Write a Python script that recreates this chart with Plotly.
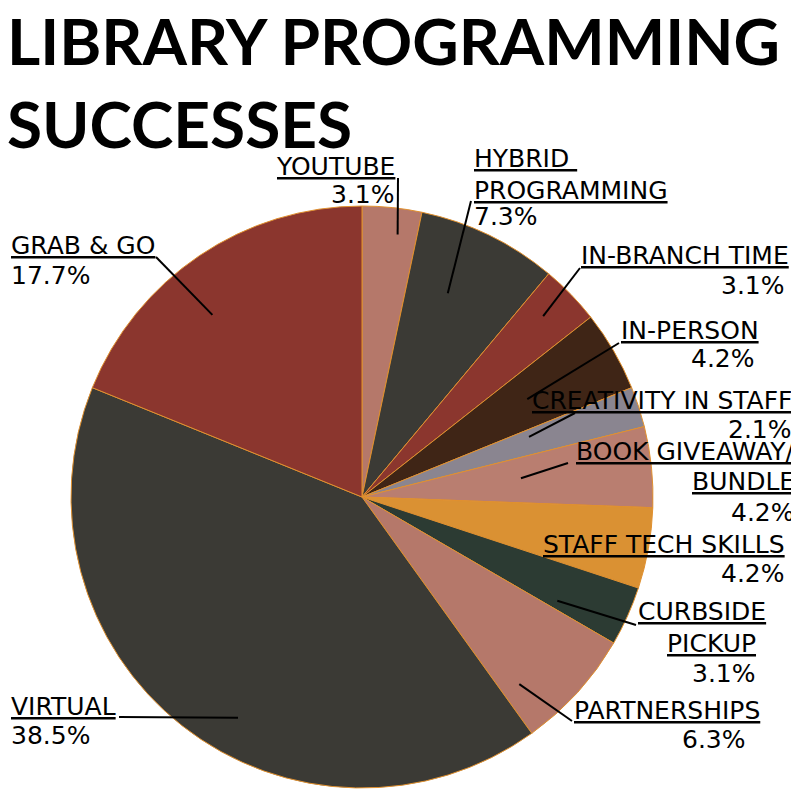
import math
import plotly.graph_objects as go

# data
categories = ["YOUTUBE", "HYBRID PROGRAMMING", "IN-BRANCH TIME", "IN-PERSON",
              "CREATIVITY IN STAFF", "BOOK GIVEAWAY/ BUNDLE", "STAFF TECH SKILLS",
              "CURBSIDE PICKUP", "PARTNERSHIPS", "VIRTUAL", "GRAB & GO"]
shares = [3.1, 7.3, 3.1, 4.2, 2.1, 4.2, 4.2, 3.1, 6.3, 38.5, 17.7]
label_lines = [["YOUTUBE"], ["HYBRID ", "PROGRAMMING"], ["IN-BRANCH TIME"], ["IN-PERSON"],
               ["CREATIVITY IN STAFF"], ["BOOK GIVEAWAY/", "BUNDLE"], ["STAFF TECH SKILLS"],
               ["CURBSIDE", "PICKUP"], ["PARTNERSHIPS"], ["VIRTUAL"], ["GRAB & GO"]]
colors = ["#b5786a", "#3b3a35", "#8b362e", "#3f2516", "#8a8590", "#b97e70",
          "#da9133", "#2c3b33", "#b5786a", "#3b3a35", "#8b362e"]

W, H = 799, 793
OFF = 8  # page body margin; layout numbers below are screen pixels
CX, CY, R = 362, 497, 291
FONT = "DejaVu Sans"
FS = 25

# per label: one (side, x, cap top) per text line (last one is the percent),
# leader end, (spot in slice, radius frac)
label_layout = [
    ([("right", 397, 158), ("right", 397, 186)], (398, 178), (0.65, 0.91)),
    ([("left", 472, 150), ("left", 472, 182), ("left", 472, 208)], (471, 201), (0.39, 0.76)),
    ([("left", 579, 247), ("right", 787, 277)], (580, 268), (0.43, 0.88)),
    ([("left", 619, 322), ("right", 757, 350)], (619, 343), (0.47, 0.66)),
    ([("right", 794, 392), ("right", 794, 421)], (575, 413), (0.28, 0.61)),
    ([("right", 797, 443), ("right", 797, 473), ("right", 797, 504)], (568, 463), (0.45, 0.55)),
    ([("right", 787, 536), ("right", 787, 565)], None, None),
    ([("left", 636, 603), ("right", 758, 635), ("right", 758, 665)], (636, 625), (0.82, 0.76)),
    ([("left", 572, 702), ("right", 748, 731)], (572, 721), (0.82, 0.84)),
    ([("left", 9, 698), ("left", 9, 727)], (119, 717), (0.44, 0.87)),
    ([("left", 9, 237), ("left", 9, 267)], (156, 257), (0.42, 0.81)),
]


def px(x):
    return (x - OFF) / W


def py(y):
    return 1 - (y - OFF) / H


fig = go.Figure()
fig.add_trace(go.Pie(
    labels=categories,
    values=shares,
    sort=False,
    direction="clockwise",
    rotation=0,
    textinfo="none",
    hoverinfo="label+value",
    marker=dict(colors=colors, line=dict(color="#e0902f", width=1)),
    domain=dict(x=[px(CX - R), px(CX + R)], y=[py(CY + R), py(CY - R)]),
    showlegend=False,
))

total = sum(shares)
shapes = []
annotations = []
cum = 0
for v, lines, lay in zip(shares, label_lines, label_layout):
    spots, end, spot = lay
    if end is not None:
        p, f = spot
        theta = math.radians((cum + p * v) / total * 360)
        x0 = CX + f * R * math.sin(theta)
        y0 = CY - f * R * math.cos(theta)
        shapes.append(dict(type="line", xref="paper", yref="paper",
                           x0=px(x0), y0=py(y0), x1=px(end[0]), y1=py(end[1]),
                           line=dict(color="black", width=2), layer="above"))
    cum += v
    texts = [f"<span style='text-decoration:underline'>{ln}</span>" for ln in lines] + [f"{v}%"]
    for txt, (side, x, top) in zip(texts, spots):
        annotations.append(dict(
            text=txt, x=px(x), y=py(top - 8), xref="paper", yref="paper",
            xanchor=side, yanchor="top", showarrow=False,
            font=dict(family=FONT, size=FS, color="black"),
        ))

annotations.append(dict(
    text="LIBRARY PROGRAMMING<br>SUCCESSES", x=px(5), y=py(0), xref="paper", yref="paper",
    xanchor="left", yanchor="top", align="left", showarrow=False,
    font=dict(family="Lato", size=64, color="black", weight="bold"),
))

fig.update_layout(
    width=W, height=H,
    margin=dict(l=0, r=0, t=0, b=0),
    paper_bgcolor="white",
    shapes=shapes,
    annotations=annotations,
)

fig.write_html("out.html")
